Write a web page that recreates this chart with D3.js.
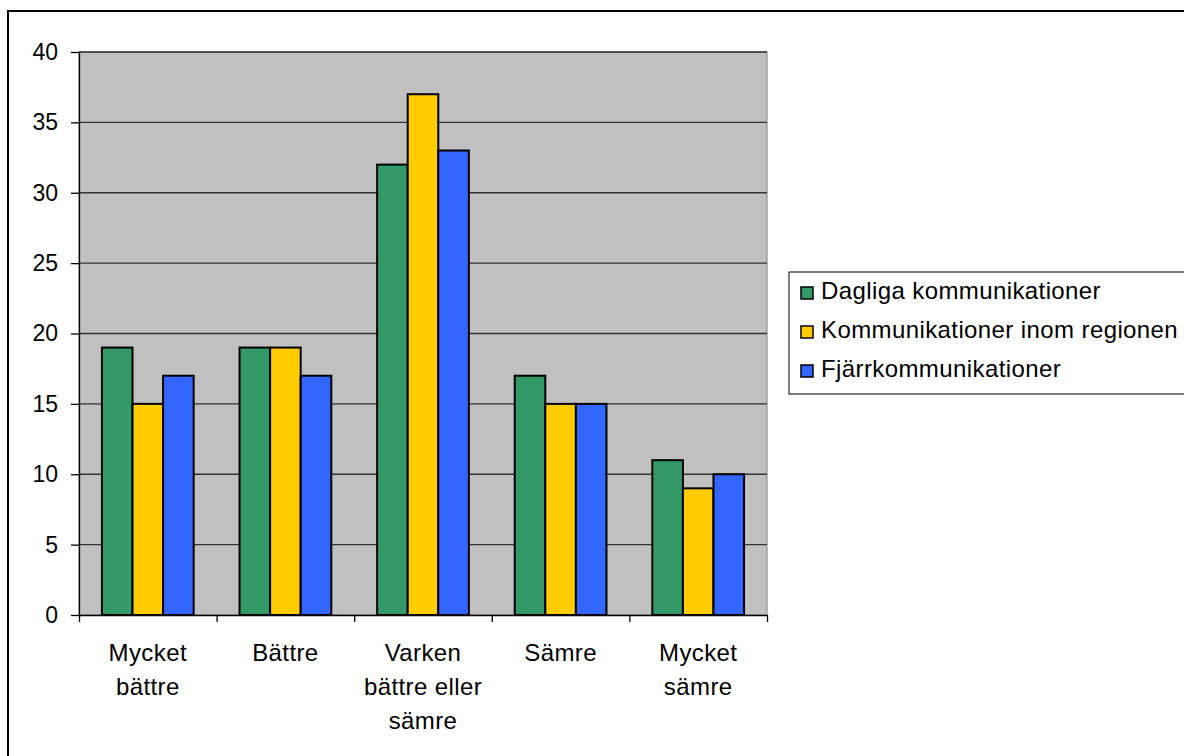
<!DOCTYPE html>
<html><head><meta charset="utf-8">
<script src="https://d3js.org/d3.v7.min.js"></script>
<style>body{margin:0;background:#fff}svg{display:block}text{font-family:"Liberation Sans",Arial,sans-serif;fill:#000}</style>
</head><body><svg id="c" width="1184" height="756"></svg>
<script>
const categories = [["Mycket","bättre"],["Bättre"],["Varken","bättre eller","sämre"],["Sämre"],["Mycket","sämre"]];
const seriesNames = ["Dagliga kommunikationer","Kommunikationer inom regionen","Fjärrkommunikationer"];
const seriesColors = ["#339966","#ffcc00","#3366ff"];
const dagliga = [19,19,32,17,11];
const inomRegion = [15,19,37,15,9];
const fjarr = [17,17,33,15,10];
const yTicks = [0,5,10,15,20,25,30,35,40];

const series = [dagliga, inomRegion, fjarr];
const svg = d3.select("#c");
svg.append("rect").attr("x",8).attr("y",11).attr("width",1200).attr("height",800).attr("fill","none").attr("stroke","#000").attr("stroke-width",2);

const L=79,R=767,T=52,B=615;
const x = d3.scaleBand().domain(d3.range(categories.length)).range([L,R]).paddingInner(0).paddingOuter(0);
const bw = x.bandwidth()/4.5;
const y = d3.scaleLinear().domain([0,40]).range([B,T]);

svg.append("rect").attr("x",L).attr("y",T).attr("width",R-L).attr("height",B-T).attr("fill","#c0c0c0").attr("stroke","#808080").attr("stroke-width",1);
svg.append("g").selectAll("line").data(yTicks.filter(d=>d>0)).join("line")
  .attr("x1",L).attr("x2",R).attr("y1",d=>y(d)).attr("y2",d=>y(d)).attr("stroke","#333").attr("stroke-width",1.3);

series.forEach((s,si)=>{
  svg.append("g").selectAll("rect").data(s).join("rect")
   .attr("x",(d,i)=>x(i)+0.75*bw+si*bw).attr("y",d=>y(d)).attr("width",bw).attr("height",d=>B-y(d))
   .attr("fill",seriesColors[si]).attr("stroke","#000").attr("stroke-width",2);
});

// y axis
const ya = d3.axisLeft(y).tickValues(yTicks).tickSize(8).tickSizeOuter(0).tickPadding(13);
const gy = svg.append("g").attr("transform",`translate(${L},0)`).call(ya);
gy.selectAll("text").style("font-size","23px").attr("font-family","Liberation Sans, Arial");
gy.selectAll("line,path").attr("stroke","#000").attr("stroke-width",1.3);

// x axis
const xl = d3.scaleLinear().domain([0,categories.length]).range([L,R]);
const gx = svg.append("g").attr("transform",`translate(0,${B})`).call(d3.axisBottom(xl).tickValues(d3.range(categories.length+1)).tickSize(7).tickSizeOuter(0).tickFormat(""));
gx.selectAll("line,path").attr("stroke","#000").attr("stroke-width",1.3);
const lab = svg.append("g").selectAll("text").data(categories).join("text")
  .attr("x",(d,i)=>x(i)+x.bandwidth()/2).attr("y",661).attr("text-anchor","middle").style("font-size","24px").style("letter-spacing","0.4px");
lab.selectAll("tspan").data(d=>d).join("tspan").attr("x",function(){return this.parentNode.getAttribute("x");}).attr("dy",(d,i)=>i?34:0).text(d=>d);

// legend
svg.append("rect").attr("x",789).attr("y",272).attr("width",420).attr("height",122).attr("fill","#fff").attr("stroke","#000").attr("stroke-width",1);
const lg = svg.append("g").selectAll("g").data(seriesNames).join("g").attr("transform",(d,i)=>`translate(801,${293+i*39})`);
lg.append("rect").attr("x",0).attr("y",-6).attr("width",12).attr("height",12).attr("fill",(d,i)=>seriesColors[i]).attr("stroke","#000").attr("stroke-width",1.5);
lg.append("text").attr("x",20).attr("y",6).style("font-size","24px").style("letter-spacing","0.4px").text(d=>d);
</script></body></html>
